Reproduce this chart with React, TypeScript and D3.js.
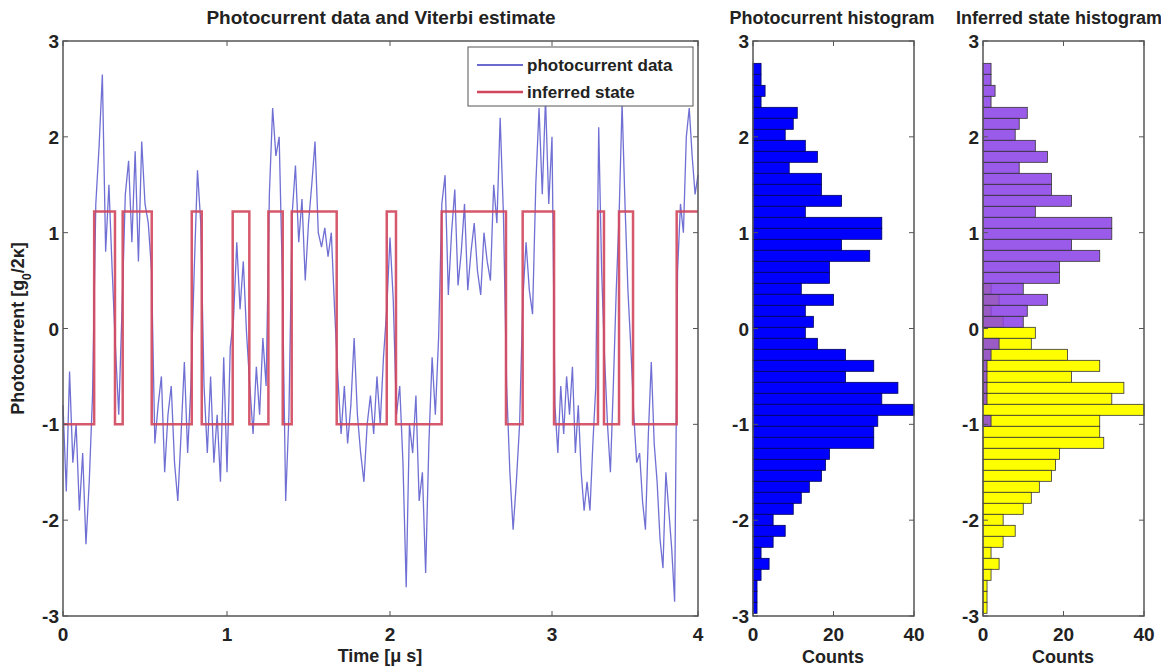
import React from "react";
import * as d3 from "d3";

// photocurrent samples, one every DT microseconds
const DT = 0.02;
const photocurrent = [
  -0.8, -1.7, -0.45, -1.4, -1.0, -1.9, -1.3, -2.25, -1.6, -0.7,
  1.3, 1.9, 2.65, 0.8, 1.5, 0.6, -0.2, -0.9, 0.2, 1.4,
  1.75, 0.9, 1.85, 0.7, 1.95, 1.3, 1.1, 0.6, -1.2, -0.8,
  -0.5, -1.5, -0.9, -0.6, -1.4, -1.8, -1.1, -0.35, -1.3, -0.6,
  0.6, 1.65, 1.1, -0.6, -1.3, -0.5, -1.4, -0.9, -1.6, -0.3,
  -1.5, -0.2, 0.1, 0.9, 0.2, 0.7, -0.05, -0.6, -1.1, -0.4,
  -0.9, -0.1, -0.6, 1.4, 2.3, 1.8, 2.0, 0.5, -1.8, -0.9,
  1.2, 1.7, 0.9, 1.35, 0.5, 1.1, 1.5, 1.95, 1.0, 0.85,
  1.05, 0.75, 1.0, 0.2, -0.5, -1.1, -0.6, -1.2, -0.8, -0.1,
  -0.9, -1.3, -1.6, -1.0, -0.7, -1.1, -0.5, -1.0, -0.3, 0.2,
  0.95, 0.3, -0.9, -0.6, -1.4, -2.7, -1.0, -1.3, -0.7, -1.8,
  -1.5, -2.55, -1.2, -0.3, -0.9, -0.1, 1.3, 1.6, 0.35, 1.0,
  1.45, 0.45, 0.8, 1.3, 0.4, 0.8, 1.1, 0.6, 0.35, 1.0,
  0.7, 0.5, 1.5, 1.1, 2.2, 1.2, -0.6, -1.5, -2.1, -1.6,
  -1.0, 0.3, 0.9, 0.4, 0.15, 1.5, 2.3, 1.4, 2.4, 1.3,
  2.0, -0.8, -1.3, -0.6, -1.1, -0.5, -0.9, -0.4, -1.3, -0.8,
  -1.5, -1.9, -1.6, -1.9, -1.2, -0.6, 2.1, 0.6, -0.3, -1.0,
  -1.5, -0.6, 0.4, 1.2, 2.35, 1.3, 0.4, -0.2, -0.9, -1.4,
  -1.3, -1.8, -2.1, -1.1, -0.35, -1.2, -1.6, -2.2, -2.5, -1.5,
  -1.9, -2.3, -2.85, 0.6, 1.3, 1.0, 2.0, 2.3, 1.8, 1.4,
  1.6,
];

// Viterbi path: switching times and the level held from each one
const stateTimes = [
  0, 0.19, 0.317, 0.364, 0.541, 0.785, 0.846, 1.035, 1.137, 1.254, 1.342,
  1.397, 1.673, 1.98, 2.037, 2.319, 2.716, 2.819, 3.014, 3.315, 3.356, 3.459,
  3.555, 3.854, 4.0,
];
const stateLevels = [
  -1, 1.22, -1, 1.22, -1, 1.22, -1, 1.22, -1, 1.22, -1, 1.22, -1, 1.22, -1,
  1.22, -1, 1.22, -1, 1.22, -1, 1.22, -1, 1.22, 1.22,
];

// histogram bins (50 bins between data min and max), listed top bin first
const binTop = 2.767;
const binBottom = -2.972;
const histCounts = [
  2, 2, 3, 2, 11, 10, 8, 13, 16, 9, 17, 17, 22, 13, 32, 32, 22, 29, 19, 19,
  12, 20, 13, 15, 13, 16, 23, 30, 23, 36, 32, 40, 31, 30, 30, 19, 18, 17, 14,
  12, 10, 5, 8, 5, 2, 4, 2, 1, 1, 1,
];
const highStateCounts = [
  2, 2, 3, 2, 11, 9, 8, 13, 16, 9, 17, 17, 22, 13, 32, 32, 22, 29, 19, 19,
  10, 16, 11, 10, 0, 4, 2, 1, 1, 1, 1, 0, 2, 0, 0, 0, 0, 0, 0, 0, 0, 0, 0, 0,
  0, 0, 0, 0, 0, 0,
];
const lowStateCounts = [
  0, 0, 0, 0, 0, 0, 0, 0, 0, 0, 0, 0, 0, 0, 0, 0, 0, 0, 0, 0,
  2, 4, 2, 5, 13, 12, 21, 29, 22, 35, 32, 40, 29, 29, 30, 19, 18, 17, 14, 12,
  10, 5, 8, 5, 2, 4, 2, 1, 1, 1,
];

const timeTicks = [0, 1, 2, 3, 4];
const valueTicks = [-3, -2, -1, 0, 1, 2, 3];
const countTicks = [0, 20, 40];

const W = 1161;
const H = 669;
const FONT = "'Liberation Sans', Arial, sans-serif";
const AXIS = "#555";
const TXT = "#222";

const yScale = d3.scaleLinear().domain([-3, 3]).range([616, 41]);
const xMain = d3.scaleLinear().domain([0, 1, 2, 3, 4]).range([63, 227, 390, 552, 698]);
const xHist1 = d3.scaleLinear().domain([0, 40]).range([753, 914]);
const xHist2 = d3.scaleLinear().domain([0, 40]).range([983, 1144]);

const binWidth = (binTop - binBottom) / histCounts.length;

const Frame = ({ x, xTicks, fmt }) => {
  const [x0, x1] = [x(xTicks[0]), x(xTicks[xTicks.length - 1])];
  const [y0, y1] = [yScale(-3), yScale(3)];
  const tl = 5;
  return (
    <g>
      <rect x={x0} y={y1} width={x1 - x0} height={y0 - y1} fill="none" stroke={AXIS} strokeWidth={1.5} />
      {xTicks.map((t) => (
        <g key={"x" + t}>
          <line x1={x(t)} x2={x(t)} y1={y0} y2={y0 - tl} stroke={AXIS} />
          <line x1={x(t)} x2={x(t)} y1={y1} y2={y1 + tl} stroke={AXIS} />
          <text x={x(t)} y={y0 + 25} textAnchor="middle" fontSize={19} fontWeight="bold" fill={TXT}>
            {fmt(t)}
          </text>
        </g>
      ))}
      {valueTicks.map((v) => (
        <g key={"y" + v}>
          <line x1={x0} x2={x0 + tl} y1={yScale(v)} y2={yScale(v)} stroke={AXIS} />
          <line x1={x1} x2={x1 - tl} y1={yScale(v)} y2={yScale(v)} stroke={AXIS} />
          <text x={x0 - 4} y={yScale(v) + 7} textAnchor="end" fontSize={19} fontWeight="bold" fill={TXT}>
            {v < 0 ? "-" + Math.abs(v) : v}
          </text>
        </g>
      ))}
    </g>
  );
};

const Bars = ({ x, counts, fill, stroke, opacity = 1 }) => (
  <g>
    {counts.map((c, i) =>
      c > 0 ? (
        <rect
          key={i}
          x={x(0)}
          y={yScale(binTop - i * binWidth)}
          width={x(c) - x(0)}
          height={yScale(binTop - (i + 1) * binWidth) - yScale(binTop - i * binWidth)}
          fill={fill}
          fillOpacity={opacity}
          stroke={stroke}
          strokeWidth={0.8}
        />
      ) : null
    )}
  </g>
);

export default function App() {
  const traceLine = d3
    .line<number>()
    .x((_, i) => xMain(i * DT))
    .y((v) => yScale(v));

  const stateLine = d3
    .line<number>()
    .x((_, i) => xMain(stateTimes[i]))
    .y((v) => yScale(v))
    .curve(d3.curveStepAfter);

  return (
    <svg width={W} height={H} style={{ position: "absolute", left: 0, top: 0, background: "#fff" }} fontFamily={FONT}>
      {/* main panel */}
      <path d={traceLine(photocurrent) || ""} fill="none" stroke="#5656cc" strokeWidth={1.3} strokeOpacity={0.85} />
      <path d={stateLine(stateLevels) || ""} fill="none" stroke="#d2465c" strokeWidth={2.5} strokeOpacity={0.9} />
      <Frame x={xMain} xTicks={timeTicks} fmt={(t) => String(t)} />

      {/* legend */}
      <g>
        <rect x={468} y={47} width={225} height={59} fill="#fff" stroke={AXIS} strokeWidth={1} />
        <line x1={477} x2={523} y1={65} y2={65} stroke="#6a6ad0" strokeWidth={2} />
        <text x={527} y={71} fontSize={17} fontWeight="bold" fill={TXT}>photocurrent data</text>
        <line x1={477} x2={523} y1={92} y2={92} stroke="#d2465c" strokeWidth={2.5} />
        <text x={527} y={98} fontSize={17} fontWeight="bold" fill={TXT}>inferred state</text>
      </g>

      <text x={381} y={24} textAnchor="middle" fontSize={19} fontWeight="bold" fill={TXT}>
        Photocurrent data and Viterbi estimate
      </text>
      <text x={380} y={662} textAnchor="middle" fontSize={18} fontWeight="bold" fill={TXT}>
        Time [μ s]
      </text>
      <text transform={`translate(24, ${yScale(0)}) rotate(-90)`} textAnchor="middle" fontSize={18} fontWeight="bold" fill={TXT}>
        Photocurrent [g<tspan baselineShift="sub" fontSize={12}>0</tspan>/2κ]
      </text>

      {/* photocurrent histogram */}
      <Bars x={xHist1} counts={histCounts} fill="#0000ff" stroke="#00005a" />
      <Frame x={xHist1} xTicks={countTicks} fmt={(t) => String(t)} />
      <text x={832} y={24} textAnchor="middle" fontSize={18} fontWeight="bold" fill={TXT}>
        Photocurrent histogram
      </text>
      <text x={833} y={663} textAnchor="middle" fontSize={18} fontWeight="bold" fill={TXT}>
        Counts
      </text>

      {/* inferred state histogram */}
      <Bars x={xHist2} counts={lowStateCounts} fill="#ffff00" stroke="#333" />
      <Bars x={xHist2} counts={highStateCounts} fill="#8a3ee6" stroke="#333" opacity={0.85} />
      <Frame x={xHist2} xTicks={countTicks} fmt={(t) => String(t)} />
      <text x={956} y={24} fontSize={18} fontWeight="bold" fill={TXT}>
        Inferred state histogram
      </text>
      <text x={1063} y={663} textAnchor="middle" fontSize={18} fontWeight="bold" fill={TXT}>
        Counts
      </text>
    </svg>
  );
}
